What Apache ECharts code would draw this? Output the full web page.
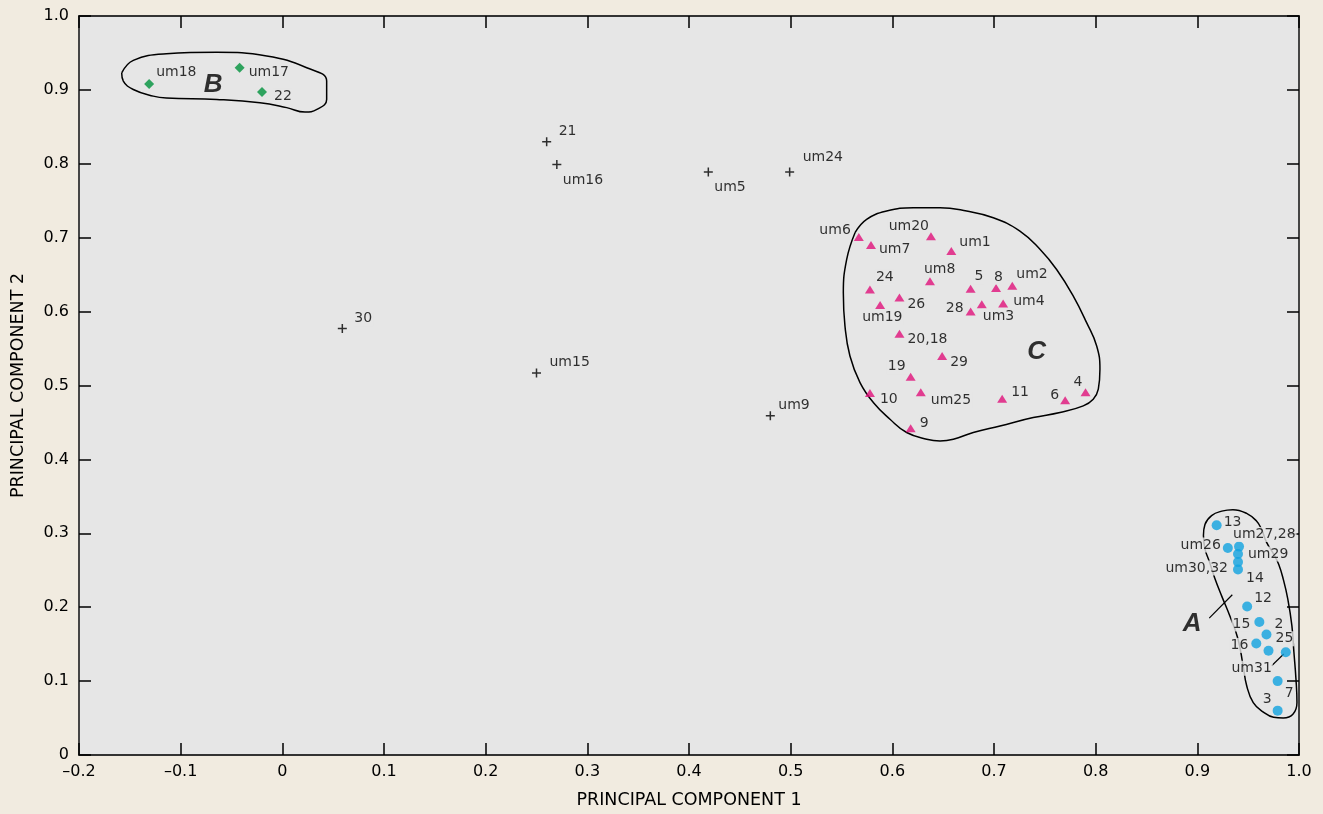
<!DOCTYPE html>
<html>
<head>
<meta charset="utf-8">
<script src="https://cdn.jsdelivr.net/npm/echarts/dist/echarts.min.js"></script>
<style>
html,body{margin:0;padding:0;background:#F1EBE0;}
#chart{width:1323px;height:814px;}
</style>
</head>
<body>
<div id="chart"></div>
<script>
// ---- data (name, PC1, PC2) ----
const groupA = [
  ['13',0.919,0.311], ['um26',0.930,0.280], ['um27,28',0.941,0.282], ['um29',0.940,0.272],
  ['um30,32',0.940,0.261], ['14',0.940,0.251], ['12',0.949,0.201], ['15',0.961,0.180],
  ['2',0.968,0.163], ['16',0.958,0.151], ['25',0.970,0.141], ['um31',0.987,0.139],
  ['7',0.979,0.100], ['3',0.979,0.060]
];
const groupB = [
  ['um18',-0.131,0.908], ['um17',-0.042,0.930], ['22',-0.020,0.897]
];
const groupC = [
  ['um6',0.567,0.701], ['um7',0.579,0.690], ['um20',0.638,0.702], ['um1',0.658,0.682],
  ['um8',0.637,0.641], ['5',0.677,0.631], ['8',0.702,0.632], ['um2',0.718,0.635],
  ['24',0.578,0.630], ['26',0.607,0.619], ['um19',0.588,0.609], ['28',0.677,0.600],
  ['um3',0.688,0.610], ['um4',0.709,0.611], ['20,18',0.607,0.570], ['29',0.649,0.540],
  ['19',0.618,0.512], ['10',0.578,0.490], ['um25',0.628,0.491], ['9',0.618,0.442],
  ['11',0.708,0.482], ['6',0.770,0.480], ['4',0.790,0.491]
];
const ungrouped = [
  ['21',0.260,0.830], ['um16',0.270,0.799], ['um5',0.419,0.789], ['um24',0.499,0.789],
  ['30',0.059,0.577], ['um15',0.250,0.517], ['um9',0.480,0.459]
];
const clusterLetters = [['A',0.895,0.177], ['B',-0.068,0.907], ['C',0.742,0.546]];

// enclosure outlines (PC1, PC2)
const outlineA = [[0.906,0.297],[0.9075,0.312],[0.914,0.324],[0.924,0.330],[0.935,0.332],[0.9485,0.327],
  [0.958,0.317],[0.963,0.306],[0.968,0.288],[0.975,0.272],[0.980,0.258],[0.9845,0.238],[0.989,0.211],
  [0.993,0.175],[0.995,0.139],[0.997,0.103],[0.998,0.071],[0.994,0.055],[0.9845,0.050],[0.975,0.051],
  [0.965,0.058],[0.955,0.071],[0.9485,0.094],[0.945,0.121],[0.940,0.157],[0.932,0.188],[0.924,0.215],
  [0.917,0.240],[0.912,0.261],[0.9075,0.279],[0.906,0.297]];
const outlineB = [[-0.158,0.923],[-0.1466,0.940],[-0.114,0.949],[-0.0646,0.951],[-0.0154,0.946],[0.024,0.930],
  [0.0436,0.912],[0.0436,0.887],[0.034,0.8736],[0.0223,0.870],[0.0043,0.876],[-0.022,0.8826],[-0.0646,0.887],
  [-0.114,0.889],[-0.127,0.8916],[-0.1466,0.9006],[-0.1564,0.912],[-0.158,0.923]];
const outlineC = [[0.5633,0.7068],[0.5747,0.7248],[0.5944,0.736],[0.6206,0.7406],[0.6469,0.7406],[0.6731,0.736],
  [0.6993,0.7271],[0.7255,0.709],[0.7452,0.6843],[0.7616,0.657],[0.778,0.621],[0.7911,0.585],[0.801,0.5535],
  [0.8042,0.522],[0.8026,0.495],[0.7976,0.4814],[0.7878,0.4724],[0.7649,0.4634],[0.7386,0.4566],[0.7059,0.4453],
  [0.6796,0.4364],[0.66,0.4273],[0.6469,0.425],[0.6338,0.4273],[0.6141,0.4364],[0.5977,0.4544],[0.5813,0.477],
  [0.5682,0.504],[0.5583,0.54],[0.5534,0.5806],[0.5518,0.6257],[0.5551,0.6707],[0.5633,0.7068]];
const leaderA = [[0.9117,0.1853],[0.9344,0.2168]];
const leaderUm31 = [[0.9731,0.1208],[0.985,0.1366]];

// label placement: [dx, dy, align] in pixels
const labelPlacement = {
  um18:[6,-12,'left'], um17:[8,5,'left'], '22':[11,4,'left'],
  '21':[11,-10,'left'], um16:[5,16,'left'], um5:[5,15,'left'], um24:[12,-15,'left'],
  '30':[11,-10,'left'], um15:[12,-11,'left'], um9:[7,-10,'left'],
  um6:[-7,-7,'right'], um7:[7,4,'left'], um20:[-1,-10,'right'], um1:[7,-9,'left'],
  um8:[-7,-12,'left'], '5':[3,-12,'left'], '8':[-3,-11,'left'], um2:[3,-11,'left'],
  '24':[5,-12,'left'], '26':[7,7,'left'], um19:[-19,12,'left'], '28':[-6,-3,'right'],
  um3:[0,12,'left'], um4:[9,-2,'left'], '20,18':[7,6,'left'], '29':[7,6,'left'],
  '19':[-4,-10,'right'], '10':[9,6,'left'], um25:[9,8,'left'], '9':[8,-5,'left'],
  '11':[8,-6,'left'], '6':[-5,-5,'right'], '4':[-2,-10,'right'],
  '13':[6,-3,'left'], um26:[-6,-3,'right'], 'um27,28':[-7,-12,'left'], um29:[9,0,'left'],
  'um30,32':[-9,6,'right'], '14':[7,9,'left'], '12':[6,-8,'left'], '15':[-8,2,'right'],
  '2':[7,-10,'left'], '16':[-7,2,'right'], '25':[6,-12,'left'], um31:[-13,16,'right'],
  '7':[6,12,'left'], '3':[-5,-11,'right']
};

const PLOT_BG = '#E6E6E6';
function toItems(arr) {
  return arr.map(function (d) {
    const p = labelPlacement[d[0]] || [6, -8, 'left'];
    return {
      name: d[0],
      value: [d[1], d[2]],
      label: { offset: [p[0], p[1]], align: p[2] }
    };
  });
}
const labelBase = {
  show: true,
  position: 'inside',
  verticalAlign: 'middle',
  formatter: '{b}',
  color: '#000',
  fontFamily: 'DejaVu Sans',
  fontSize: 14,
  lineHeight: 15,
  backgroundColor: PLOT_BG,
  padding: [0, 1]
};

function fmtX(v) {
  if (Math.abs(v) < 1e-9) return '0';
  return (v < 0 ? '\u2013' : '') + Math.abs(v).toFixed(1);
}
function fmtY(v) {
  if (Math.abs(v) < 1e-9) return '0';
  return v.toFixed(1);
}

const axisLineStyle = { color: '#333', width: 1.8 };
const tickStyle = { color: '#000', width: 1.5 };
const labelFont = { color: '#000', fontFamily: 'DejaVu Sans', fontSize: 16 };
const nameFont = { color: '#000', fontFamily: 'DejaVu Sans', fontSize: 17.5 };

function outlineSeries(pts) {
  return {
    type: 'line', data: pts, smooth: 0.45, showSymbol: false, symbol: 'none', silent: true,
    lineStyle: { color: '#000', width: 1.5 }, z: 1, animation: false
  };
}
function leaderSeries(pts) {
  return {
    type: 'line', data: pts, showSymbol: false, symbol: 'none', silent: true,
    lineStyle: { color: '#000', width: 1.2 }, z: 1, animation: false
  };
}

const chart = echarts.init(document.getElementById('chart'), null, { renderer: 'canvas' });
chart.setOption({
  backgroundColor: '#F1EBE0',
  animation: false,
  grid: { left: 79, right: 24, top: 16, bottom: 58, show: true, backgroundColor: PLOT_BG, borderWidth: 0 },
  xAxis: [
    {
      type: 'value', min: -0.2, max: 1.0, interval: 0.1, position: 'bottom',
      name: 'PRINCIPAL COMPONENT 1', nameLocation: 'middle', nameGap: 36, nameTextStyle: nameFont,
      axisLine: { show: true, onZero: false, lineStyle: axisLineStyle },
      axisTick: { show: true, inside: true, length: 12, lineStyle: tickStyle },
      axisLabel: Object.assign({ margin: 9, formatter: fmtX }, labelFont),
      splitLine: { show: false }
    },
    {
      type: 'value', min: -0.2, max: 1.0, interval: 0.1, position: 'top',
      axisLine: { show: true, onZero: false, lineStyle: axisLineStyle },
      axisTick: { show: true, inside: true, length: 12, lineStyle: tickStyle },
      axisLabel: { show: false }, splitLine: { show: false }
    }
  ],
  yAxis: [
    {
      type: 'value', min: 0, max: 1.0, interval: 0.1, position: 'left',
      name: 'PRINCIPAL COMPONENT 2', nameLocation: 'middle', nameGap: 52, nameTextStyle: nameFont,
      axisLine: { show: true, onZero: false, lineStyle: axisLineStyle },
      axisTick: { show: true, inside: true, length: 12, lineStyle: tickStyle },
      axisLabel: Object.assign({ margin: 10, formatter: fmtY }, labelFont),
      splitLine: { show: false }
    },
    {
      type: 'value', min: 0, max: 1.0, interval: 0.1, position: 'right',
      axisLine: { show: true, onZero: false, lineStyle: axisLineStyle },
      axisTick: { show: true, inside: true, length: 12, lineStyle: tickStyle },
      axisLabel: { show: false }, splitLine: { show: false }
    }
  ],
  series: [
    outlineSeries(outlineA),
    outlineSeries(outlineB),
    outlineSeries(outlineC),
    leaderSeries(leaderA),
    leaderSeries(leaderUm31),
    {
      type: 'scatter', name: 'A', data: toItems(groupA), symbol: 'circle', symbolSize: 10,
      itemStyle: { color: '#10A2E0' }, label: labelBase, z: 3
    },
    {
      type: 'scatter', name: 'B', data: toItems(groupB), symbol: 'diamond', symbolSize: 10,
      itemStyle: { color: '#00923C' }, label: labelBase, z: 3
    },
    {
      type: 'scatter', name: 'C', data: toItems(groupC), symbol: 'triangle', symbolSize: [10, 8],
      itemStyle: { color: '#E0117B' }, label: labelBase, z: 3
    },
    {
      type: 'scatter', name: 'other', data: toItems(ungrouped),
      symbol: 'path://M0,5L10,5M5,0L5,10', symbolSize: 9,
      itemStyle: { color: 'none', borderColor: '#000', borderWidth: 1.5 }, label: labelBase, z: 3
    },
    {
      type: 'scatter', name: 'letters', silent: true,
      data: clusterLetters.map(function (d) { return { name: d[0], value: [d[1], d[2]] }; }),
      symbol: 'circle', symbolSize: 1, itemStyle: { color: 'rgba(0,0,0,0)' },
      label: {
        show: true, position: 'inside', align: 'center', verticalAlign: 'middle', formatter: '{b}',
        color: '#000', fontFamily: 'Liberation Sans', fontSize: 26, fontWeight: 'bold', fontStyle: 'italic'
      },
      z: 4
    }
  ]
});
</script>
</body>
</html>
